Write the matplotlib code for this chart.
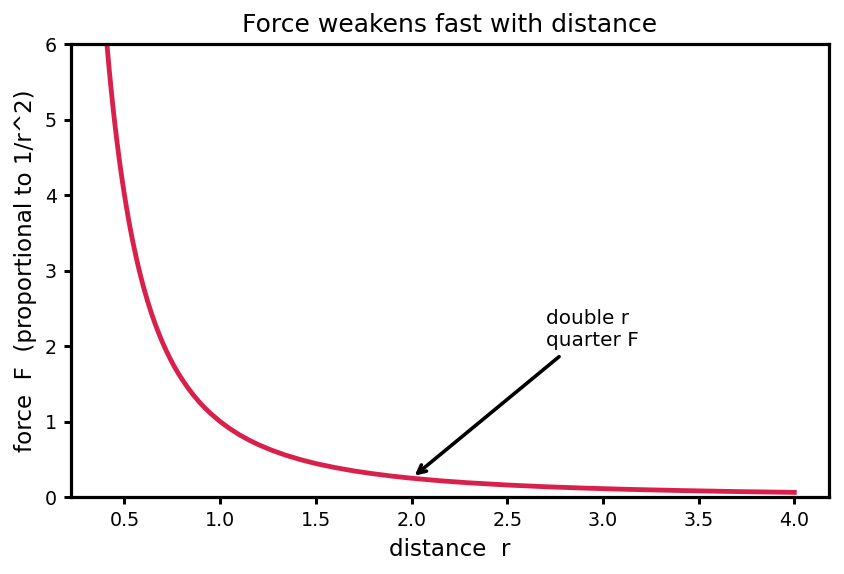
import matplotlib
matplotlib.use("Agg")
import matplotlib.pyplot as plt

# distance r and force F values
r_values = [0.40, 0.41, 0.42, 0.43, 0.44, 0.45, 0.46, 0.47, 0.48, 0.49, 0.50,
            0.51, 0.52, 0.53, 0.54, 0.55, 0.56, 0.57, 0.58, 0.59, 0.60,
            0.62, 0.64, 0.66, 0.68, 0.70, 0.72, 0.74, 0.76, 0.78, 0.80,
            0.83, 0.86, 0.89, 0.92, 0.95, 1.00, 1.05, 1.10, 1.15, 1.20,
            1.27, 1.34, 1.42, 1.50, 1.60, 1.70, 1.80, 1.90, 2.00, 2.15,
            2.30, 2.50, 2.70, 2.90, 3.15, 3.40, 3.70, 4.00]
F_values = [6.250, 5.949, 5.669, 5.408, 5.165, 4.938, 4.726, 4.527, 4.340, 4.165, 4.000,
            3.845, 3.698, 3.560, 3.429, 3.306, 3.189, 3.078, 2.973, 2.873, 2.778,
            2.601, 2.441, 2.296, 2.163, 2.041, 1.929, 1.826, 1.731, 1.644, 1.563,
            1.452, 1.352, 1.262, 1.181, 1.108, 1.000, 0.907, 0.826, 0.756, 0.694,
            0.620, 0.557, 0.496, 0.444, 0.391, 0.346, 0.309, 0.277, 0.250, 0.216,
            0.189, 0.160, 0.137, 0.119, 0.101, 0.087, 0.073, 0.0625]

title = "Force weakens fast with distance"
xlabel = "distance  r"
ylabel = "force  F  (proportional to 1/r^2)"
note = "double r\nquarter F"
note_xy = (2.0, 0.25)
note_text_xy = (2.7, 2.0)

fig, ax = plt.subplots(figsize=(844/144, 574/144), dpi=144)
ax.plot(r_values, F_values, color="#d8204b", lw=2.4)
ax.set_ylim(0, 6)
ax.set_xlim(0.22, 4.18)
ax.set_title(title, fontsize=12.5)
ax.set_xlabel(xlabel, fontsize=11.5)
ax.set_ylabel(ylabel, fontsize=11.5)
ax.tick_params(labelsize=9.5, width=1.5)
for s in ax.spines.values():
    s.set_linewidth(1.6)
ax.annotate(note, xy=note_xy, xytext=note_text_xy, fontsize=10,
            arrowprops=dict(arrowstyle="->", color="black", lw=1.8))
fig.subplots_adjust(left=0.084, right=0.982, top=0.923, bottom=0.134)
fig.savefig("out.png", dpi=144)
